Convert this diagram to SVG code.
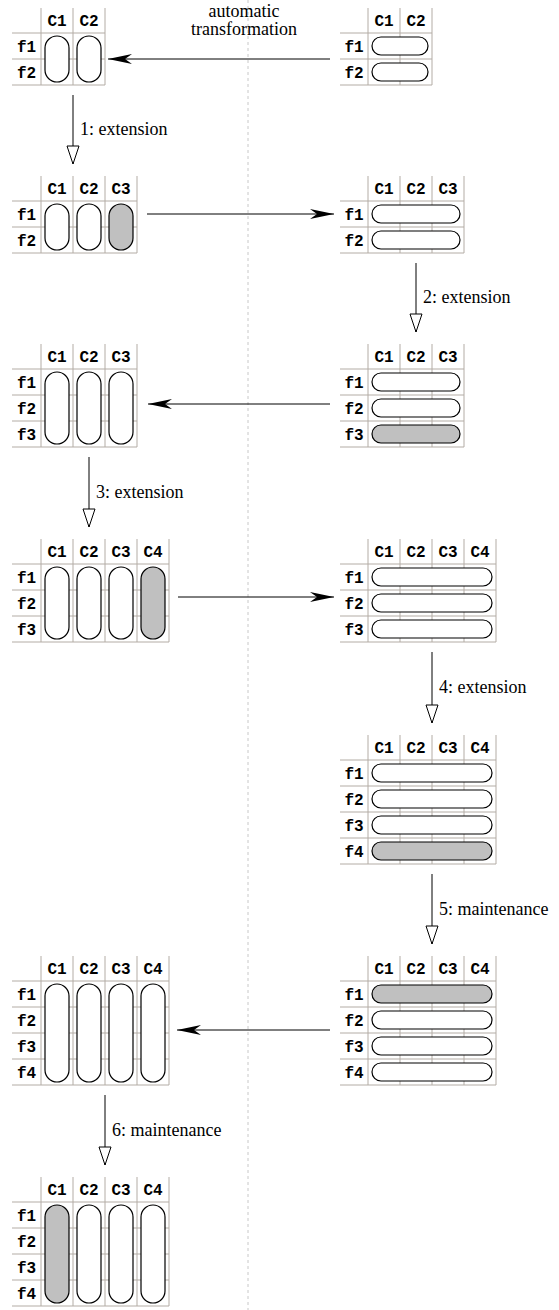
<svg xmlns="http://www.w3.org/2000/svg" width="559" height="1310" viewBox="0 0 559 1310">
<style>
.g{stroke:#b3aca5;stroke-width:1;fill:none}
.h{font-family:"Liberation Mono",monospace;font-weight:bold;font-size:16px;fill:#000;text-anchor:middle}
.c{fill:#fff;stroke:#000;stroke-width:1.2}
.s{fill:#c0c0c0;stroke:#000;stroke-width:1.2}
.l{font-family:"Liberation Serif",serif;font-size:18px;fill:#000}
.a{stroke:#000;stroke-width:1;fill:none}
</style>
<defs>
<marker id="dart" markerUnits="userSpaceOnUse" markerWidth="26" markerHeight="12" viewBox="-25 -6 26 12" refX="0" refY="0" orient="auto"><path d="M0,0 L-24,-5 L-17,0 L-24,5 z" fill="#000"/></marker>
<marker id="tri" markerUnits="userSpaceOnUse" markerWidth="20" markerHeight="14" viewBox="-19 -7 20 14" refX="0" refY="0" orient="auto"><path d="M0,0 L-18,-6 L-18,6 z" fill="#fff" stroke="#000" stroke-width="1"/></marker>
</defs>
<line x1="248" y1="0" x2="248" y2="1310" stroke="#c8c8c8" stroke-width="1" stroke-dasharray="3,3"/>

<g id="t1-left">
<path class="g" d="M41,8V85M73,8V85M105,8V85M12,33H105M12,59H105M12,85H105"/>
<text class="h" x="57" y="26">C1</text><text class="h" x="89" y="26">C2</text>
<text class="h" x="26.5" y="51.5">f1</text><text class="h" x="26.5" y="77.5">f2</text>
<rect class="c" x="45" y="36" width="24" height="46" rx="12"/>
<rect class="c" x="77" y="36" width="24" height="46" rx="12"/>
</g>

<g id="t1-right">
<path class="g" d="M368,8V85M400,8V85M432,8V85M340,33H432M340,59H432M340,85H432"/>
<text class="h" x="384" y="26">C1</text><text class="h" x="416" y="26">C2</text>
<text class="h" x="354" y="51.5">f1</text><text class="h" x="354" y="77.5">f2</text>
<rect class="c" x="372" y="37" width="56" height="18" rx="9"/>
<rect class="c" x="372" y="63" width="56" height="18" rx="9"/>
</g>

<g id="t2-left">
<path class="g" d="M41,176V253M73,176V253M105,176V253M137,176V253M12,201H137M12,227H137M12,253H137"/>
<text class="h" x="57" y="194">C1</text><text class="h" x="89" y="194">C2</text><text class="h" x="121" y="194">C3</text>
<text class="h" x="26.5" y="219.5">f1</text><text class="h" x="26.5" y="245.5">f2</text>
<rect class="c" x="45" y="204" width="24" height="46" rx="12"/>
<rect class="c" x="77" y="204" width="24" height="46" rx="12"/>
<rect class="s" x="109" y="204" width="24" height="46" rx="12"/>
</g>

<g id="t2-right">
<path class="g" d="M368,176V253M400,176V253M432,176V253M464,176V253M340,201H464M340,227H464M340,253H464"/>
<text class="h" x="384" y="194">C1</text><text class="h" x="416" y="194">C2</text><text class="h" x="448" y="194">C3</text>
<text class="h" x="354" y="219.5">f1</text><text class="h" x="354" y="245.5">f2</text>
<rect class="c" x="372" y="205" width="88" height="18" rx="9"/>
<rect class="c" x="372" y="231" width="88" height="18" rx="9"/>
</g>

<g id="t3-right">
<path class="g" d="M368,344V447M400,344V447M432,344V447M464,344V447M340,369H464M340,395H464M340,421H464M340,447H464"/>
<text class="h" x="384" y="362">C1</text><text class="h" x="416" y="362">C2</text><text class="h" x="448" y="362">C3</text>
<text class="h" x="354" y="387.5">f1</text><text class="h" x="354" y="413.5">f2</text><text class="h" x="354" y="439.5">f3</text>
<rect class="c" x="372" y="373" width="88" height="18" rx="9"/>
<rect class="c" x="372" y="399" width="88" height="18" rx="9"/>
<rect class="s" x="372" y="425" width="88" height="18" rx="9"/>
</g>

<g id="t3-left">
<path class="g" d="M41,344V447M73,344V447M105,344V447M137,344V447M12,369H137M12,395H137M12,421H137M12,447H137"/>
<text class="h" x="57" y="362">C1</text><text class="h" x="89" y="362">C2</text><text class="h" x="121" y="362">C3</text>
<text class="h" x="26.5" y="387.5">f1</text><text class="h" x="26.5" y="413.5">f2</text><text class="h" x="26.5" y="439.5">f3</text>
<rect class="c" x="45" y="372" width="24" height="72" rx="12"/>
<rect class="c" x="77" y="372" width="24" height="72" rx="12"/>
<rect class="c" x="109" y="372" width="24" height="72" rx="12"/>
</g>

<g id="t4-left">
<path class="g" d="M41,539V642M73,539V642M105,539V642M137,539V642M169,539V642M12,564H169M12,590H169M12,616H169M12,642H169"/>
<text class="h" x="57" y="557">C1</text><text class="h" x="89" y="557">C2</text><text class="h" x="121" y="557">C3</text><text class="h" x="153" y="557">C4</text>
<text class="h" x="26.5" y="582.5">f1</text><text class="h" x="26.5" y="608.5">f2</text><text class="h" x="26.5" y="634.5">f3</text>
<rect class="c" x="45" y="567" width="24" height="72" rx="12"/>
<rect class="c" x="77" y="567" width="24" height="72" rx="12"/>
<rect class="c" x="109" y="567" width="24" height="72" rx="12"/>
<rect class="s" x="141" y="567" width="24" height="72" rx="12"/>
</g>

<g id="t4-right">
<path class="g" d="M368,539V642M400,539V642M432,539V642M464,539V642M496,539V642M340,564H496M340,590H496M340,616H496M340,642H496"/>
<text class="h" x="384" y="557">C1</text><text class="h" x="416" y="557">C2</text><text class="h" x="448" y="557">C3</text><text class="h" x="480" y="557">C4</text>
<text class="h" x="354" y="582.5">f1</text><text class="h" x="354" y="608.5">f2</text><text class="h" x="354" y="634.5">f3</text>
<rect class="c" x="372" y="568" width="120" height="18" rx="9"/>
<rect class="c" x="372" y="594" width="120" height="18" rx="9"/>
<rect class="c" x="372" y="620" width="120" height="18" rx="9"/>
</g>

<g id="t5-right">
<path class="g" d="M368,735V864M400,735V864M432,735V864M464,735V864M496,735V864M340,760H496M340,786H496M340,812H496M340,838H496M340,864H496"/>
<text class="h" x="384" y="753">C1</text><text class="h" x="416" y="753">C2</text><text class="h" x="448" y="753">C3</text><text class="h" x="480" y="753">C4</text>
<text class="h" x="354" y="778.5">f1</text><text class="h" x="354" y="804.5">f2</text><text class="h" x="354" y="830.5">f3</text><text class="h" x="354" y="856.5">f4</text>
<rect class="c" x="372" y="764" width="120" height="18" rx="9"/>
<rect class="c" x="372" y="790" width="120" height="18" rx="9"/>
<rect class="c" x="372" y="816" width="120" height="18" rx="9"/>
<rect class="s" x="372" y="842" width="120" height="18" rx="9"/>
</g>

<g id="t6-right">
<path class="g" d="M368,956V1085M400,956V1085M432,956V1085M464,956V1085M496,956V1085M340,981H496M340,1007H496M340,1033H496M340,1059H496M340,1085H496"/>
<text class="h" x="384" y="974">C1</text><text class="h" x="416" y="974">C2</text><text class="h" x="448" y="974">C3</text><text class="h" x="480" y="974">C4</text>
<text class="h" x="354" y="999.5">f1</text><text class="h" x="354" y="1025.5">f2</text><text class="h" x="354" y="1051.5">f3</text><text class="h" x="354" y="1077.5">f4</text>
<rect class="s" x="372" y="985" width="120" height="18" rx="9"/>
<rect class="c" x="372" y="1011" width="120" height="18" rx="9"/>
<rect class="c" x="372" y="1037" width="120" height="18" rx="9"/>
<rect class="c" x="372" y="1063" width="120" height="18" rx="9"/>
</g>

<g id="t6-left">
<path class="g" d="M41,956V1085M73,956V1085M105,956V1085M137,956V1085M169,956V1085M12,981H169M12,1007H169M12,1033H169M12,1059H169M12,1085H169"/>
<text class="h" x="57" y="974">C1</text><text class="h" x="89" y="974">C2</text><text class="h" x="121" y="974">C3</text><text class="h" x="153" y="974">C4</text>
<text class="h" x="26.5" y="999.5">f1</text><text class="h" x="26.5" y="1025.5">f2</text><text class="h" x="26.5" y="1051.5">f3</text><text class="h" x="26.5" y="1077.5">f4</text>
<rect class="c" x="45" y="984" width="24" height="98" rx="12"/>
<rect class="c" x="77" y="984" width="24" height="98" rx="12"/>
<rect class="c" x="109" y="984" width="24" height="98" rx="12"/>
<rect class="c" x="141" y="984" width="24" height="98" rx="12"/>
</g>

<g id="t7-left">
<path class="g" d="M41,1177V1306M73,1177V1306M105,1177V1306M137,1177V1306M169,1177V1306M12,1202H169M12,1228H169M12,1254H169M12,1280H169M12,1306H169"/>
<text class="h" x="57" y="1195">C1</text><text class="h" x="89" y="1195">C2</text><text class="h" x="121" y="1195">C3</text><text class="h" x="153" y="1195">C4</text>
<text class="h" x="26.5" y="1220.5">f1</text><text class="h" x="26.5" y="1246.5">f2</text><text class="h" x="26.5" y="1272.5">f3</text><text class="h" x="26.5" y="1298.5">f4</text>
<rect class="s" x="45" y="1205" width="24" height="98" rx="12"/>
<rect class="c" x="77" y="1205" width="24" height="98" rx="12"/>
<rect class="c" x="109" y="1205" width="24" height="98" rx="12"/>
<rect class="c" x="141" y="1205" width="24" height="98" rx="12"/>
</g>

<g id="connectors">
<line class="a" x1="330" y1="59" x2="108" y2="59" marker-end="url(#dart)"/>
<text class="l" x="244" y="17" text-anchor="middle">automatic</text>
<text class="l" x="244" y="35" text-anchor="middle">transformation</text>
<line class="a" x1="147" y1="214" x2="334" y2="214" marker-end="url(#dart)"/>
<line class="a" x1="330" y1="404" x2="148" y2="404" marker-end="url(#dart)"/>
<line class="a" x1="178" y1="597" x2="334" y2="597" marker-end="url(#dart)"/>
<line class="a" x1="330" y1="1030" x2="177" y2="1030" marker-end="url(#dart)"/>
<line class="a" x1="73" y1="95" x2="73" y2="164" marker-end="url(#tri)"/>
<text class="l" x="80" y="135">1: extension</text>
<line class="a" x1="416" y1="263" x2="416" y2="332" marker-end="url(#tri)"/>
<text class="l" x="423" y="303">2: extension</text>
<line class="a" x1="89" y1="457" x2="89" y2="527" marker-end="url(#tri)"/>
<text class="l" x="96" y="498">3: extension</text>
<line class="a" x1="432" y1="652" x2="432" y2="723" marker-end="url(#tri)"/>
<text class="l" x="439" y="693">4: extension</text>
<line class="a" x1="432" y1="874" x2="432" y2="944" marker-end="url(#tri)"/>
<text class="l" x="439" y="915">5: maintenance</text>
<line class="a" x1="105" y1="1095" x2="105" y2="1165" marker-end="url(#tri)"/>
<text class="l" x="112" y="1136">6: maintenance</text>
</g>
</svg>
